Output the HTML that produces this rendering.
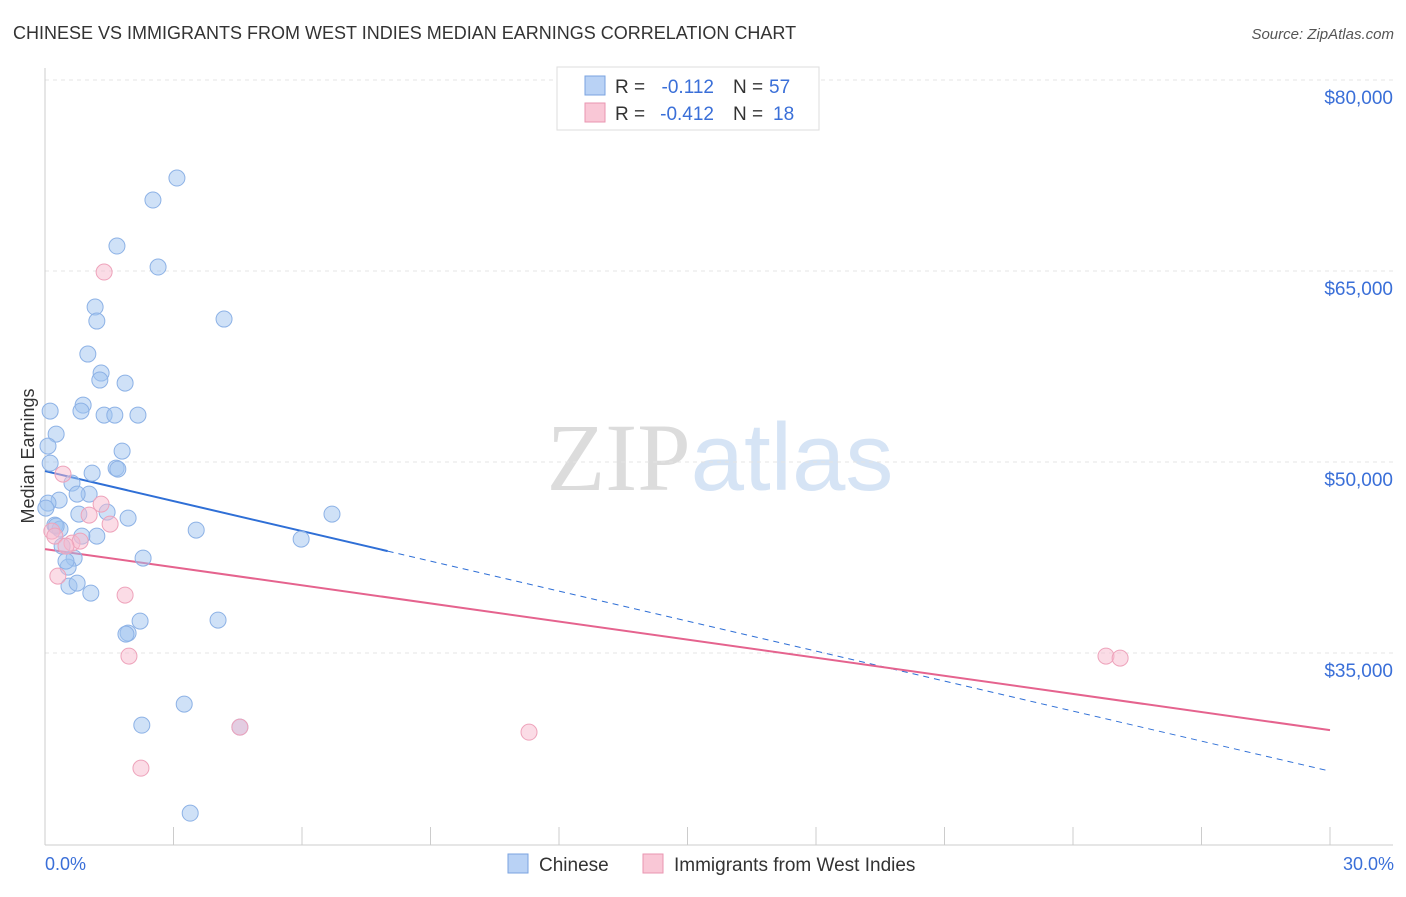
<!DOCTYPE html>
<html><head><meta charset="utf-8"><style>
body{margin:0;background:#fff;font-family:"Liberation Sans",sans-serif;}
svg text{font-family:"Liberation Sans",sans-serif;}
</style></head><body>
<svg id="chart" width="1406" height="892" xmlns="http://www.w3.org/2000/svg">
<text x="13" y="39" font-size="18" fill="#333">CHINESE VS IMMIGRANTS FROM WEST INDIES MEDIAN EARNINGS CORRELATION CHART</text>
<text x="1394" y="39" font-size="15" fill="#555" text-anchor="end" font-style="italic">Source: ZipAtlas.com</text>
<text x="720" y="490" font-size="96" text-anchor="middle"><tspan fill="#dcdcdc" font-family="Liberation Serif">ZIP</tspan><tspan fill="#d6e4f5">atlas</tspan></text>
<g id="grid"></g><g id="axes"></g><g id="trends"></g><g id="points"></g>
<text transform="translate(34,456) rotate(-90)" font-size="18" fill="#333" text-anchor="middle">Median Earnings</text>
<text x="45" y="870" font-size="18" fill="#3a6fd8">0.0%</text>
<text x="1394" y="870" font-size="18" fill="#3a6fd8" text-anchor="end">30.0%</text>
<g>
<rect x="557" y="67" width="262" height="63" fill="#fff" stroke="#ddd"/>
<rect x="585" y="76" width="20" height="19" fill="#b9d2f5" stroke="#7aa3e0"/>
<rect x="585" y="103" width="20" height="19" fill="#f9c7d6" stroke="#e996b0"/>
<text x="615" y="93" font-size="19" fill="#333">R =</text>
<text x="714" y="93" font-size="19" fill="#3a6fd8" text-anchor="end">-0.112</text>
<text x="733" y="93" font-size="19" fill="#333">N =</text>
<text x="769" y="93" font-size="19" fill="#3a6fd8">57</text>
<text x="615" y="120" font-size="19" fill="#333">R =</text>
<text x="714" y="120" font-size="19" fill="#3a6fd8" text-anchor="end">-0.412</text>
<text x="733" y="120" font-size="19" fill="#333">N =</text>
<text x="773" y="120" font-size="19" fill="#3a6fd8">18</text>
</g>
<g>
<rect x="508" y="854" width="20" height="19" fill="#b9d2f5" stroke="#7aa3e0"/>
<text x="539" y="871" font-size="19" fill="#333">Chinese</text>
<rect x="643" y="854" width="20" height="19" fill="#f9c7d6" stroke="#e996b0"/>
<text x="674" y="871" font-size="19" fill="#333">Immigrants from West Indies</text>
</g>
</svg>
<script>
const yTicks=[80000,65000,50000,35000];
const yTickLabels=["$80,000","$65,000","$50,000","$35,000"];
const xTicks=[0,3,6,9,12,15,18,21,24,27,30];
const chineseX=[3.08,2.52,1.68,2.64,1.17,1.21,4.18,1.00,1.31,1.28,1.87,0.89,0.12,0.84,1.38,1.63,2.17,0.26,0.07,1.80,0.12,1.66,1.70,1.10,0.63,1.03,0.75,0.33,0.07,0.02,1.45,0.79,1.94,6.70,0.23,0.35,3.53,1.21,0.86,5.98,0.40,0.68,2.29,0.54,0.56,0.75,1.07,2.22,4.04,1.94,1.89,3.25,2.26,4.55,3.39,0.26,0.49];
const chineseY=[72302,70574,66961,65311,62169,61069,61226,58477,56985,56435,56199,54471,54000,54000,53686,53686,53686,52193,51251,50858,49915,49522,49444,49130,48344,47480,47480,47009,46774,46381,46067,45910,45596,45910,45046,44731,44653,44182,44182,43946,43396,42454,42454,41747,40254,40490,39705,37506,37583,36562,36483,30985,29335,29178,22423,44967,42218];
const westX=[1.38,0.42,1.31,1.03,1.52,0.16,0.23,0.63,0.82,0.49,0.30,1.87,1.96,4.55,2.24,11.30,24.77,25.10];
const westY=[64918,49052,46695,45832,45125,44575,44182,43632,43789,43396,41040,39548,34756,29178,25958,28785,34756,34599];
const chineseTrend=[49287,25722];
const westTrend=[43160,28942];
const chineseSolidEnd=8.0;
const NS="http://www.w3.org/2000/svg";
const sx=v=>45+v*(1285/30);
const sy=v=>80-(v-80000)*(191/15000);
function mk(tag,attrs,parent){const e=document.createElementNS(NS,tag);for(const k in attrs)e.setAttribute(k,attrs[k]);document.getElementById(parent).appendChild(e);return e;}
yTicks.forEach((t,i)=>{
 const l=mk('line',{x1:45,x2:1393,y1:sy(t),y2:sy(t),stroke:'#e4e4e4','stroke-dasharray':'4,4'},'grid');
 
 
 const tx=mk('text',{x:1393,y:sy(t)+24,'font-size':19,fill:'#3a6fd8','text-anchor':'end'},'grid');
 tx.textContent=yTickLabels[i];
 
 
});
const ax=mk('line',{x1:45,x2:45,y1:68,y2:845,stroke:'#ccc'},'axes');


const bx=mk('line',{x1:45,x2:1393,y1:845,y2:845,stroke:'#ccc'},'axes');


xTicks.forEach(t=>{
 const l=mk('line',{x1:sx(t),x2:sx(t),y1:827,y2:845,stroke:'#ccc'},'axes');
 
 
});
function trendY(tr,x){return tr[0]+(tr[1]-tr[0])*x/30;}
let t1=mk('line',{x1:sx(0),y1:sy(trendY(chineseTrend,0)),x2:sx(chineseSolidEnd),y2:sy(trendY(chineseTrend,chineseSolidEnd)),stroke:'#2f6fd6','stroke-width':2},'trends');


let t2=mk('line',{x1:sx(chineseSolidEnd),y1:sy(trendY(chineseTrend,chineseSolidEnd)),x2:sx(30),y2:sy(trendY(chineseTrend,30)),stroke:'#2f6fd6','stroke-width':1,'stroke-dasharray':'6,5'},'trends');


let t3=mk('line',{x1:sx(0),y1:sy(westTrend[0]),x2:sx(30),y2:sy(westTrend[1]),stroke:'#e5638e','stroke-width':2},'trends');


chineseX.forEach((x,i)=>{
 const c=mk('circle',{cx:sx(x),cy:sy(chineseY[i]),r:8,fill:'rgba(160,195,240,0.5)',stroke:'#8db2e6','stroke-width':1},'points');
 
 
});
westX.forEach((x,i)=>{
 const c=mk('circle',{cx:sx(x),cy:sy(westY[i]),r:8,fill:'rgba(248,185,205,0.5)',stroke:'#eea3bb','stroke-width':1},'points');
 
 
});
</script>
</body></html>
